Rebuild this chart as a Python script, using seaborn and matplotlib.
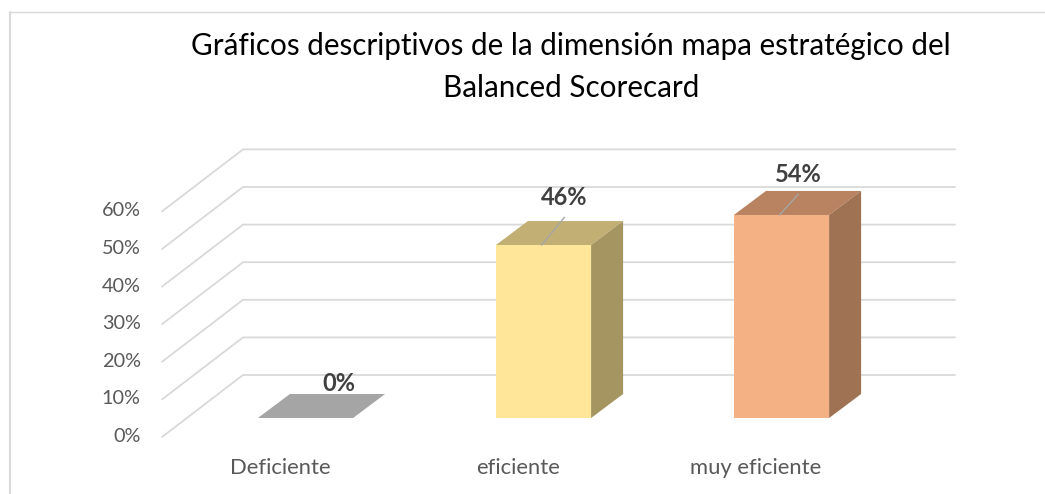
import matplotlib
matplotlib.use('Agg')
import matplotlib.pyplot as plt
import pandas as pd
import seaborn as sns
from matplotlib.lines import Line2D
from matplotlib.patches import Polygon
from matplotlib.transforms import ScaledTranslation

TITLE = 'Gráficos descriptivos de la dimensión mapa estratégico del\nBalanced Scorecard'
CATEGORIES = ['Deficiente', 'eficiente', 'muy eficiente']
VALUES = [0, 46, 54]
Y_TICKS = [0, 10, 20, 30, 40, 50, 60]

FRONT_COLORS = ['#A5A5A5', '#FFE699', '#F4B183']
TOP_COLORS = ['#A5A5A5', '#C1AF73', '#B98261']
SIDE_COLORS = ['#A5A5A5', '#A59561', '#9E7252']
GRID_COLOR = '#D9D9D9'

W, H = 1045, 494
# bar plane in pixels
PLANE_LEFT, PLANE_RIGHT = 186.5, 900.5
PLANE_BASE, PX_PER_PCT = 418, 3.76
PX_PER_CAT = (PLANE_RIGHT - PLANE_LEFT) / 3

sns.set_theme(style='white')
plt.rcParams['font.family'] = ['Lato', 'DejaVu Sans']

fig = plt.figure(figsize=(W / 100, H / 100), dpi=100)
ax = fig.add_axes([PLANE_LEFT / W, 1 - PLANE_BASE / H,
                   (PLANE_RIGHT - PLANE_LEFT) / W, 60 * PX_PER_PCT / H])

df = pd.DataFrame({'cat': CATEGORIES, 'val': VALUES})
sns.barplot(data=df, x='cat', y='val', hue='cat', palette=FRONT_COLORS, width=0.4,
            saturation=1, legend=False, linewidth=0, ax=ax, zorder=4)
ax.set_xlim(-0.5, 2.5)
ax.set_ylim(0, 60)
ax.set_xlabel('')
ax.set_ylabel('')
sns.despine(ax=ax, left=True, bottom=True)


def px_dx(px):
    return px / PX_PER_CAT


def px_dy(px):
    return px / PX_PER_PCT


# walls: the gridlines run from the front edge back, then along the back wall
x_min, x_max = ax.get_xlim()
for tick in Y_TICKS:
    ax.plot([x_min + px_dx(-24.5), x_min + px_dx(56.5), x_max + px_dx(54.5)],
            [tick + px_dy(-19), tick + px_dy(43), tick + px_dy(43)],
            color=GRID_COLOR, lw=1.3, clip_on=False, zorder=1)

# top and side faces of each bar
for i, bar in enumerate(ax.patches):
    x0, x1 = bar.get_x(), bar.get_x() + bar.get_width()
    top = bar.get_height()
    dx, dy = px_dx(32), px_dy(24)
    ax.add_patch(Polygon([(x0, top), (x1, top), (x1 + dx, top + dy), (x0 + dx, top + dy)],
                         fc=TOP_COLORS[i], ec='none', clip_on=False, zorder=3))
    ax.add_patch(Polygon([(x1, 0), (x1 + dx, dy), (x1 + dx, top + dy), (x1, top)],
                         fc=SIDE_COLORS[i], ec='none', clip_on=False, zorder=3))

# data labels with their leader lines, offsets in points
LABEL_OFFSETS = [(24, 24.5), (15, 34), (12, 29)]
LEADER_ENDS = [(0, 0), (16.5, 20), (13.5, 15)]
for i, val in enumerate(VALUES):
    ax.annotate(f'{val}%', xy=(i, val), xytext=LABEL_OFFSETS[i], textcoords='offset points',
                ha='center', va='center', fontsize=17, fontweight='bold', color='#404040',
                annotation_clip=False, zorder=6)
    if val > 0:
        ax.annotate('', xy=(i - 0.008, val), xytext=LEADER_ENDS[i], textcoords='offset points',
                    arrowprops=dict(arrowstyle='-', color='#A6A6A6', lw=1, shrinkA=0, shrinkB=0),
                    annotation_clip=False, zorder=6)

# tick labels belong to the front edge of the floor, not to the bar plane
ax.set_yticks(Y_TICKS, [f'{t}%' for t in Y_TICKS])
ax.tick_params(axis='y', length=0, pad=15, labelsize=14.3, labelcolor='#595959')
ax.tick_params(axis='x', length=0, pad=29, labelsize=15.8, labelcolor='#595959')
shift = ScaledTranslation(-25 / 100, -17 / 100, fig.dpi_scale_trans)
for lab in ax.get_yticklabels():
    lab.set_transform(lab.get_transform() + shift)
shift_x = ScaledTranslation(-25.5 / 100, 0, fig.dpi_scale_trans)
for lab in ax.get_xticklabels():
    lab.set_transform(lab.get_transform() + shift_x)

fig.text(571 / W, 1 - 67 / H, TITLE, ha='center', va='center', fontsize=21.3,
         color='black', linespacing=1.63)

# chart frame, only the top and left edges show in the crop
fig.add_artist(Line2D([10 / W, 1], [1 - 12.5 / H, 1 - 12.5 / H], color=GRID_COLOR, lw=1))
fig.add_artist(Line2D([10 / W, 10 / W], [0, 1 - 12.5 / H], color=GRID_COLOR, lw=1.5))

fig.savefig('out.png', dpi=100)
